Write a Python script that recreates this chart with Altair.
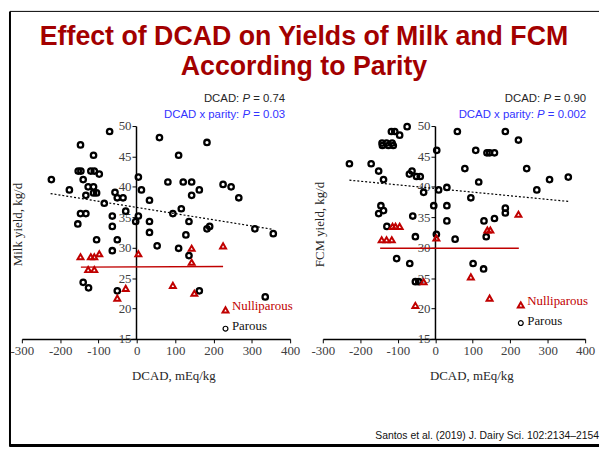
import altair as alt
import pandas as pd

# ---------------- data ----------------
x_ticks = [-300, -200, -100, 0, 100, 200, 300, 400]
y_ticks = [15, 20, 25, 30, 35, 40, 45, 50]

milk_parous_x = [-223, -176, -147, -153, -146, -140, -113, -120, -111, -98,
                 -127, -113, -113, -105, -133, -85, -71, -57, -51, -36,
                 -29, -64, -64, -147, -133, -154, 4, 12, 33, 4,
                 -3, 33, 59, 81, 109, 121, 143, 143, 163, 183,
                 225, 246, 266, 116, 94, 136, 190, 183, 308, 356,
                 33, -105, -51, 128, 53, -64, 109, 136, -140, -126,
                 -51, 163, 335]
milk_parous_y = [41.2, 39.5, 46.9, 42.6, 42.6, 41.2, 45.2, 42.6, 42.6, 42.1,
                 40.0, 40.0, 39.0, 39.0, 38.6, 37.3, 49.1, 39.1, 38.2, 38.2,
                 36.0, 35.2, 33.5, 35.6, 35.6, 33.9, 41.6, 39.5, 37.8, 35.2,
                 34.3, 34.3, 48.1, 40.8, 45.2, 40.8, 40.8, 38.6, 39.5, 47.3,
                 40.4, 40.0, 38.2, 36.4, 35.6, 34.3, 33.5, 33.1, 33.1, 32.3,
                 32.5, 31.3, 31.3, 32.1, 30.3, 29.5, 29.9, 28.7, 24.3, 23.4,
                 22.9, 22.9, 21.9]
milk_nulli_x = [-147, -120, -111, -98, -127, -111, 4, -29, -51, 143, 143, 94, 150, 225]
milk_nulli_y = [28.5, 28.5, 28.5, 29.0, 26.4, 26.4, 29.0, 23.3, 21.7, 29.9, 27.6, 23.8, 22.5, 30.3]

fcm_parous_x = [-229, -171, -151, -138, -145, -138, -151, -129,
                -142, -141, -130, -125, -115, -112, -117, -108, -95, -75,
                -69, -62, -50, -40, -31, -60, -53,
                4, 9, 31, -4, 31, 31, 59, 79, 108, 116,
                95, 138, 145, 158, 130, 158, 187, 187, 187, 222,
                244, 271, 305, 355,
                136, 53, 3, -103, -68, 101, 129, -53, -44]
fcm_parous_y = [43.8, 43.8, 42.6, 41.2, 36.9, 36.1, 35.6, 33.5,
                47.2, 46.8, 47.2, 46.8, 47.2, 46.8, 49.1, 49.1, 48.5, 49.9,
                42.1, 42.6, 41.7, 41.7, 39.1, 35.2, 31.8,
                46.0, 39.5, 39.9, 36.9, 36.9, 34.4, 49.1, 43.0, 46.0, 40.8,
                38.2, 45.6, 45.6, 45.6, 34.4, 34.8, 36.5, 35.7, 49.1, 47.7,
                43.0, 39.5, 41.2, 41.6,
                31.8, 31.4, 32.2, 28.2, 27.4, 27.4, 26.5, 24.4, 24.4]
fcm_nulli_x = [-143, -130, -116, -114, -106, -95, 3, 139, 147, 222, -53, -31, 95, 145]
fcm_nulli_y = [31.3, 31.3, 31.3, 33.5, 33.5, 33.5, 31.6, 32.9, 32.9, 35.5, 20.5, 24.4, 25.2, 21.7]

milk_trend_x = [-225, 356]
milk_trend_y = [38.9, 33.0]
milk_nline_x = [-146, 225]
milk_nline_y = [26.8, 26.9]
fcm_trend_x = [-229, 356]
fcm_trend_y = [41.1, 37.6]
fcm_nline_x = [-147, 223]
fcm_nline_y = [29.9, 29.9]

title_lines = ["Effect of DCAD on Yields of Milk and FCM", "According to Parity"]
milk_p = ["0.74", "0.03"]
fcm_p = ["0.90", "0.002"]
citation = "Santos et al. (2019) J. Dairy Sci. 102:2134\u20132154"

# ---------------- styling ----------------
SANS = "Liberation Sans"
SERIF = "Liberation Serif"
RED = "#C00000"
TITLE_RED = "#A30000"
BLUE = "#3333FF"
W_L, W_R, H = 271, 265, 215
ONE = pd.DataFrame({"k": [0]})

ARIAL = {' ': 278, '=': 584, '.': 278, ':': 278, 'D': 722, 'C': 722, 'A': 667,
         'P': 667, 'x': 500, 'p': 556, 'a': 556, 'r': 333, 'i': 222, 't': 278, 'y': 500}


def tw(s, size):
    return sum(ARIAL.get(c, 556) for c in s) * size / 1000.0


def xenc(title_x):
    return alt.X("x:Q", scale=alt.Scale(domain=[-300, 400], nice=False, zero=False),
                 axis=alt.Axis(values=x_ticks, title="DCAD, mEq/kg", labelExpr="datum.value",
                               grid=False, domainColor="black", domainWidth=1.5,
                               tickColor="black", tickSize=4, tickWidth=1,
                               labelFont=SERIF, labelFontSize=13, labelColor="#404040",
                               labelPadding=2, labelFlush=False, labelOverlap=False,
                               titleFont=SERIF, titleFontSize=13, titleFontWeight="normal",
                               titleColor="#262626", titleX=title_x, titleY=37,
                               titleAlign="center", titleBaseline="middle"))


def yenc(title, offset, title_x):
    return alt.Y("y:Q", scale=alt.Scale(domain=[15, 50], nice=False, zero=False),
                 axis=alt.Axis(values=y_ticks, title=title, orient="left", offset=offset,
                               grid=False, domainColor="black", domainWidth=1.5,
                               tickColor="black", tickSize=4, tickWidth=1,
                               labelFont=SERIF, labelFontSize=13, labelColor="#404040",
                               labelPadding=1, labelFlush=False, labelOverlap=False,
                               titleFont=SERIF, titleFontSize=13, titleFontWeight="normal",
                               titleColor="#262626", titleX=title_x, titleY=99,
                               titleAngle=270, titleAlign="center", titleBaseline="middle"))


def label(text, x, y, **kw):
    return alt.Chart(ONE).mark_text(**kw).encode(
        x=alt.value(x), y=alt.value(y), text=alt.value(text))


def rule(x, x2, y, y2, width):
    return alt.Chart(ONE).mark_rule(color="black", strokeWidth=width).encode(
        x=alt.value(x), x2=alt.value(x2), y=alt.value(y), y2=alt.value(y2))


def p_text(pval, end_x, y, color, prefix):
    size = 11.5
    full = prefix + " P = " + pval
    s = end_x - tw(full, size)
    common = dict(font=SANS, fontSize=size, color=color, align="left", baseline="middle")
    return [
        label(prefix, s, y, **common),
        label("P", s + tw(prefix + " ", size), y, fontStyle="italic", **common),
        label("= " + pval, s + tw(prefix + " P ", size), y, **common),
    ]


def panel(px, py, nx, ny, tx, ty, lx, ly, width, ytitle, yoffset, ytitle_x, xtitle_x,
          pvals, leg):
    X = xenc(xtitle_x)
    Y = yenc(ytitle, yoffset, ytitle_x)
    parous = alt.Chart(pd.DataFrame({"x": px, "y": py})).mark_point(
        shape="circle", filled=False, color="black", strokeWidth=2.3, size=30, opacity=1
    ).encode(x=X, y=Y)
    nulli = alt.Chart(pd.DataFrame({"x": nx, "y": ny})).mark_point(
        shape="triangle-up", filled=False, color=RED, strokeWidth=2, size=36, opacity=1
    ).encode(x=X, y=Y)
    trend = alt.Chart(pd.DataFrame({"x": tx, "y": ty})).mark_line(
        color="black", strokeWidth=1.2, strokeDash=[2, 2]).encode(x=X, y=Y)
    nline = alt.Chart(pd.DataFrame({"x": lx, "y": ly})).mark_line(
        color=RED, strokeWidth=1.5).encode(x=X, y=Y)
    layers = [trend, nline, parous, nulli]
    layers += p_text(pvals[0], 266, -27.6, "#262626", "DCAD:")
    layers += p_text(pvals[1], 266, -11, BLUE, "DCAD x parity:")
    # legend
    tri_x, tri_y, circ_y = leg
    layers.append(alt.Chart(ONE).mark_point(
        shape="triangle-up", filled=False, color=RED, strokeWidth=2, size=36, opacity=1
    ).encode(x=alt.value(tri_x), y=alt.value(tri_y)))
    layers.append(alt.Chart(ONE).mark_point(
        shape="circle", filled=False, color="black", strokeWidth=1.2, size=24, opacity=1
    ).encode(x=alt.value(tri_x), y=alt.value(circ_y)))
    layers.append(label("Nulliparous", tri_x + 6.5, tri_y - 4, font=SERIF, fontSize=13,
                        color=RED, align="left", baseline="middle"))
    layers.append(label("Parous", tri_x + 6.5, circ_y - 2.5, font=SERIF, fontSize=13,
                        color="#111111", align="left", baseline="middle"))
    return layers


left_layers = panel(milk_parous_x, milk_parous_y, milk_nulli_x, milk_nulli_y,
                    milk_trend_x, milk_trend_y, milk_nline_x, milk_nline_y, W_L,
                    "Milk yield, kg/d", -115.3, -119.5, 153, milk_p,
                    (205.7, 185.7, 204.7))
# slide frame and title (placed in the left panel, unclipped)
left_layers += [
    rule(-12, -12, -115.8, 324, 2),
    rule(-12, 583, -115.8, -115.8, 1),
    rule(-12, 583, 322.7, 322.7, 3),
    label(title_lines[0], 285, -90.3, font=SANS, fontSize=27, fontWeight="bold",
          color=TITLE_RED, align="center", baseline="middle"),
    label(title_lines[1], 285, -59.3, font=SANS, fontSize=27, fontWeight="bold",
          color=TITLE_RED, align="center", baseline="middle"),
]
left = alt.layer(*left_layers).properties(width=W_L, height=H)

right_layers = panel(fcm_parous_x, fcm_parous_y, fcm_nulli_x, fcm_nulli_y,
                     fcm_trend_x, fcm_trend_y, fcm_nline_x, fcm_nline_y, W_R,
                     "FCM yield, kg/d", -113.3, -116.6, 150, fcm_p,
                     (200, 180.7, 199))
right_layers.append(label(citation, 279, 312.7, font=SANS, fontSize=10.5, color="#111111",
                          align="right", baseline="middle"))
right = alt.layer(*right_layers).properties(width=W_R, height=H)

chart = alt.hconcat(left, right, spacing=33, bounds="flush").properties(
    padding=0, background="white"
).configure_view(stroke=None)

chart.save("out.html", embed_options={"renderer": "svg", "actions": False})
